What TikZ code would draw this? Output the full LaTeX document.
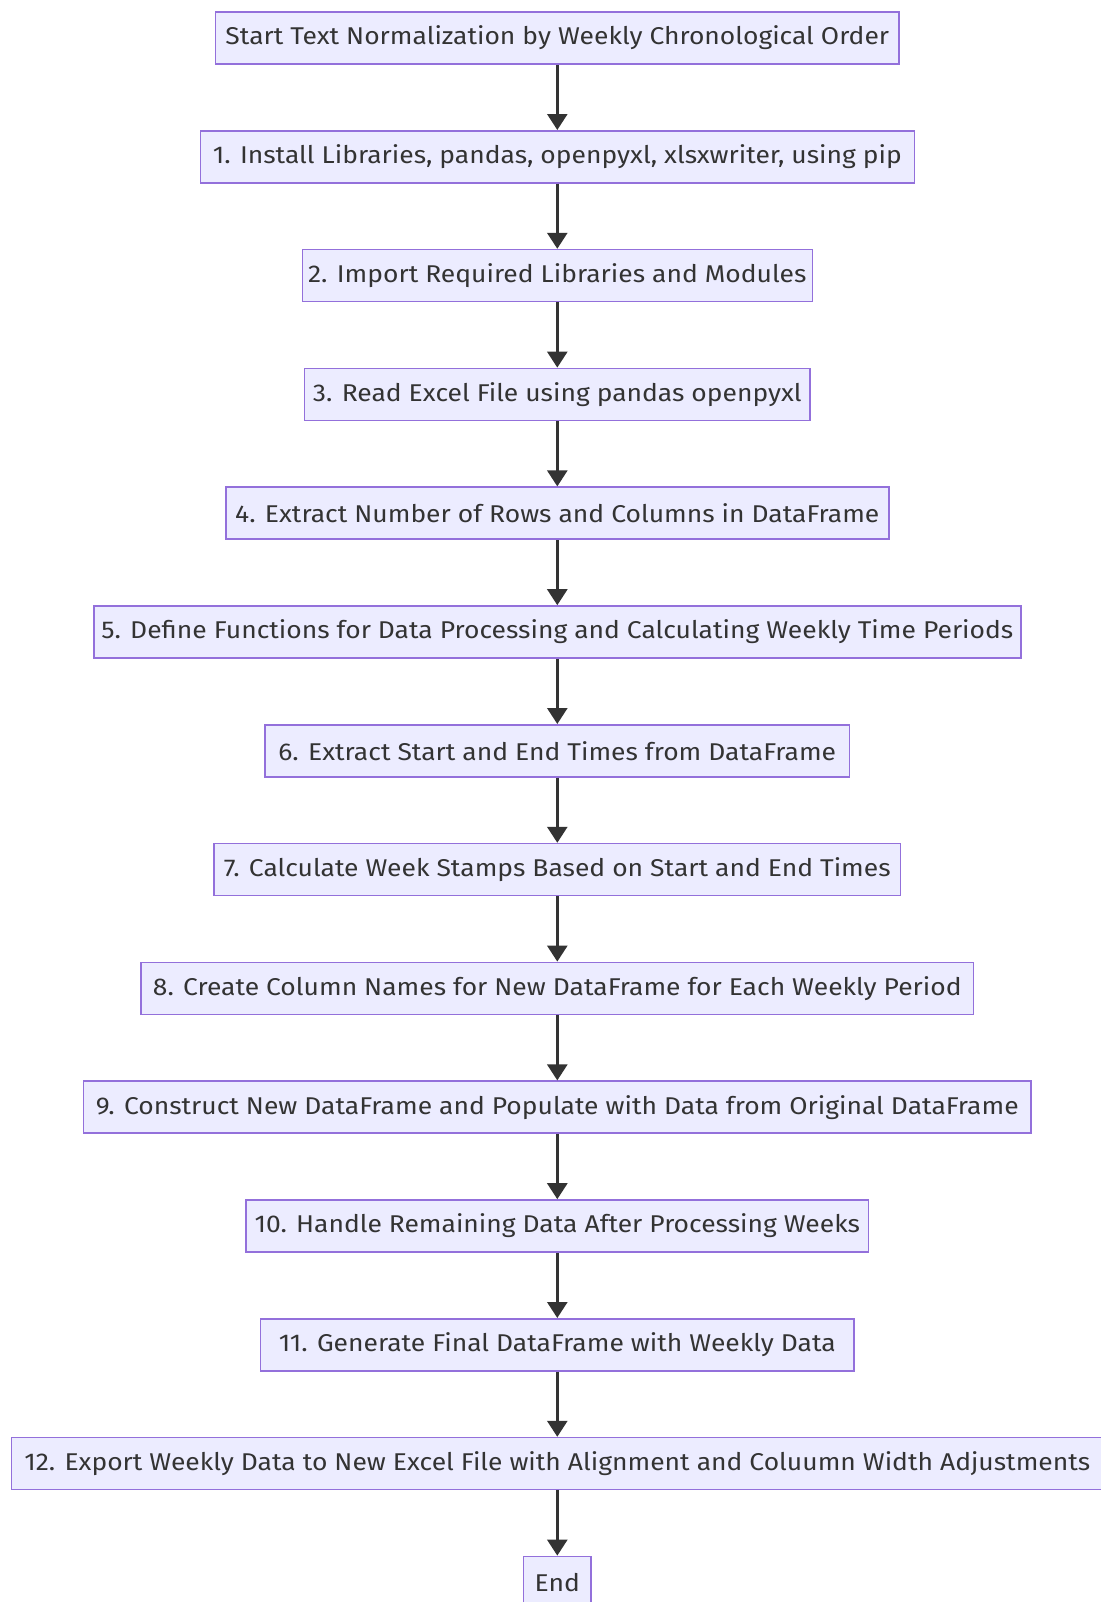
\documentclass[tikz,border=0pt]{standalone}
\usepackage{fontspec}
\setmainfont{Fira Sans}[FakeStretch=1.09]
\usetikzlibrary{arrows.meta}
\definecolor{boxfill}{HTML}{ECECFF}
\definecolor{boxline}{HTML}{9370DB}
\definecolor{txt}{HTML}{333333}
\tikzset{
  flowbox/.style={draw=boxline, fill=boxfill, line width=1.2pt, text=txt,
    minimum height=39pt, inner xsep=0pt, inner ysep=0pt, anchor=north,
    font=\fontsize{18.2pt}{21pt}\selectfont},
  flowarrow/.style={draw=txt, line width=2pt, -{Triangle[width=15pt,length=12pt]}}
}
\begin{document}
\begin{tikzpicture}[x=0.75pt,y=-0.75pt]
\useasboundingbox (0,0) rectangle (1100,1602);
\fill[white] (0,0) rectangle (1100,1602);
\node[flowbox, minimum width=512.6pt] (s)  at (557.3,11.2) {Start Text Normalization by Weekly Chronological Order};
\node[flowbox, minimum width=535.5pt] (n1) at (557.3,130.0) {1. Install Libraries, pandas, openpyxl, xlsxwriter, using pip};
\node[flowbox, minimum width=382.5pt] (n2) at (557.3,248.8) {2. Import Required Libraries and Modules};
\node[flowbox, minimum width=379.3pt] (n3) at (557.3,367.6) {3. Read Excel File using pandas openpyxl};
\node[flowbox, minimum width=497.3pt] (n4) at (557.3,486.4) {4. Extract Number of Rows and Columns in DataFrame};
\node[flowbox, minimum width=695.3pt] (n5) at (557.3,605.2) {5. Define Functions for Data Processing and Calculating Weekly Time Periods};
\node[flowbox, minimum width=438.3pt] (n6) at (557.3,724.0) {6. Extract Start and End Times from DataFrame};
\node[flowbox, minimum width=514.9pt] (n7) at (557.3,842.8) {7. Calculate Week Stamps Based on Start and End Times};
\node[flowbox, minimum width=624.5pt] (n8) at (557.3,961.6) {8. Create Column Names for New DataFrame for Each Weekly Period};
\node[flowbox, minimum width=710.8pt] (n9) at (557.3,1080.4) {9. Construct New DataFrame and Populate with Data from Original DataFrame};
\node[flowbox, minimum width=466.7pt] (n10) at (557.3,1199.2) {10. Handle Remaining Data After Processing Weeks};
\node[flowbox, minimum width=445.3pt] (n11) at (557.3,1318.0) {11. Generate Final DataFrame with Weekly Data};
\node[flowbox, minimum width=819pt] (n12) at (557.3,1436.8) {12. Export Weekly Data to New Excel File with Alignment and Coluumn Width Adjustments};
\node[flowbox, minimum width=50.6pt] (e) at (557.3,1555.6) {End};
\draw[flowarrow] (s) -- (n1);
\draw[flowarrow] (n1) -- (n2);
\draw[flowarrow] (n2) -- (n3);
\draw[flowarrow] (n3) -- (n4);
\draw[flowarrow] (n4) -- (n5);
\draw[flowarrow] (n5) -- (n6);
\draw[flowarrow] (n6) -- (n7);
\draw[flowarrow] (n7) -- (n8);
\draw[flowarrow] (n8) -- (n9);
\draw[flowarrow] (n9) -- (n10);
\draw[flowarrow] (n10) -- (n11);
\draw[flowarrow] (n11) -- (n12);
\draw[flowarrow] (n12) -- (e);
\end{tikzpicture}
\end{document}
